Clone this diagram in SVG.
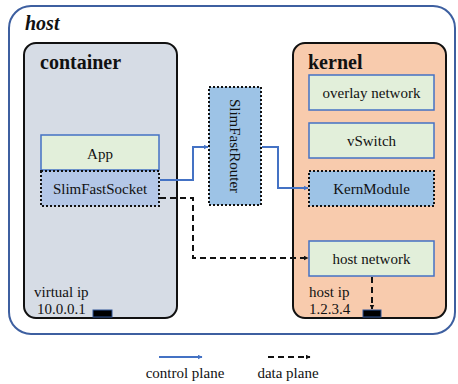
<svg xmlns="http://www.w3.org/2000/svg" width="458" height="384" viewBox="0 0 458 384">
  <style>
    text { font-family: "Times New Roman", Liberation Serif, Tinos, serif; fill: #111; }
    .t { font-size: 15px; text-anchor: middle; }
    .lbl { font-size: 15px; }
    .title { font-size: 20px; font-weight: bold; }
    .green { fill: #e2efda; stroke: #4472c4; stroke-width: 1.5; }
    .blue { fill: #b4c7e7; stroke: #111; stroke-width: 2; stroke-dasharray: 2 2; }
    .blue2 { fill: #9dc3e6; stroke: #111; stroke-width: 2; stroke-dasharray: 2 2; }
    .ctl { fill: none; stroke: #4472c4; stroke-width: 2; }
    .data { fill: none; stroke: #111; stroke-width: 2; stroke-dasharray: 6 4; }
    .port { fill: #000; stroke: #2f5597; stroke-width: 1; }
  </style>
  <defs>
    <marker id="ab" viewBox="0 0 10 10" refX="9" refY="5" markerWidth="5" markerHeight="5" orient="auto" markerUnits="userSpaceOnUse">
      <path d="M0,0 L10,5 L0,10 z" fill="#4472c4"/>
    </marker>
    <marker id="ak" viewBox="0 0 10 10" refX="9" refY="5" markerWidth="5" markerHeight="5" orient="auto" markerUnits="userSpaceOnUse">
      <path d="M0,0 L10,5 L0,10 z" fill="#111"/>
    </marker>
  </defs>

  <!-- host frame -->
  <g id="host">
    <rect x="9" y="6" width="446" height="328" rx="22" fill="#fff" stroke="#3d5fa0" stroke-width="2"/>
    <text x="25" y="30" class="title" font-style="italic">host</text>
  </g>

  <!-- container -->
  <g id="container">
    <rect x="24" y="43" width="153" height="275" rx="12" fill="#d6dce5" stroke="#111" stroke-width="2"/>
    <text x="40" y="69" class="title">container</text>
    <text x="34" y="297" class="lbl">virtual ip</text>
    <text x="37" y="314" class="lbl">10.0.0.1</text>
    <rect x="93" y="310" width="19" height="7" class="port"/>
  </g>
  <g id="app">
    <rect x="41" y="135" width="118" height="35" class="green"/>
    <text x="100" y="159" class="t">App</text>
  </g>
  <g id="socket">
    <rect x="41" y="171" width="118" height="35" class="blue"/>
    <text x="100" y="194" class="t">SlimFastSocket</text>
  </g>

  <!-- router -->
  <g id="router">
    <rect x="209" y="87" width="52" height="118" class="blue2"/>
    <text x="0" y="0" class="t" transform="translate(230 146) rotate(90)">SlimFastRouter</text>
  </g>

  <!-- kernel -->
  <g id="kernel">
    <rect x="293" y="43" width="153" height="275" rx="12" fill="#f8cbad" stroke="#111" stroke-width="2"/>
    <text x="308" y="69" class="title">kernel</text>
    <text x="309" y="297" class="lbl">host ip</text>
    <text x="309" y="314" class="lbl">1.2.3.4</text>
    <rect x="363" y="310" width="18" height="7" class="port"/>
  </g>
  <g id="overlay">
    <rect x="309" y="75" width="125" height="35" class="green"/>
    <text x="371.5" y="98" class="t">overlay network</text>
  </g>
  <g id="vswitch">
    <rect x="309" y="123" width="125" height="35" class="green"/>
    <text x="371.5" y="146" class="t">vSwitch</text>
  </g>
  <g id="kernmodule">
    <rect x="309" y="171" width="125" height="35" class="blue2"/>
    <text x="371.5" y="194" class="t">KernModule</text>
  </g>
  <g id="hostnet">
    <rect x="309" y="241" width="125" height="35" class="green"/>
    <text x="371.5" y="264" class="t">host network</text>
  </g>

  <!-- connectors -->
  <g id="connectors">
    <path d="M160,180 H193 V147 H208" class="ctl" marker-end="url(#ab)"/>
    <path d="M262,147 H278 V188 H308" class="ctl" marker-end="url(#ab)"/>
    <path d="M160,198 H193 V258 H308" class="data" marker-end="url(#ak)"/>
    <path d="M372,277 V309" class="data" marker-end="url(#ak)"/>
  </g>

  <!-- legend -->
  <g id="legend">
    <path d="M159,357 H202" class="ctl" marker-end="url(#ab)"/>
    <text x="185" y="378" class="t">control plane</text>
    <path d="M268,357 H310" class="data" marker-end="url(#ak)"/>
    <text x="288" y="378" class="t">data plane</text>
  </g>
</svg>
